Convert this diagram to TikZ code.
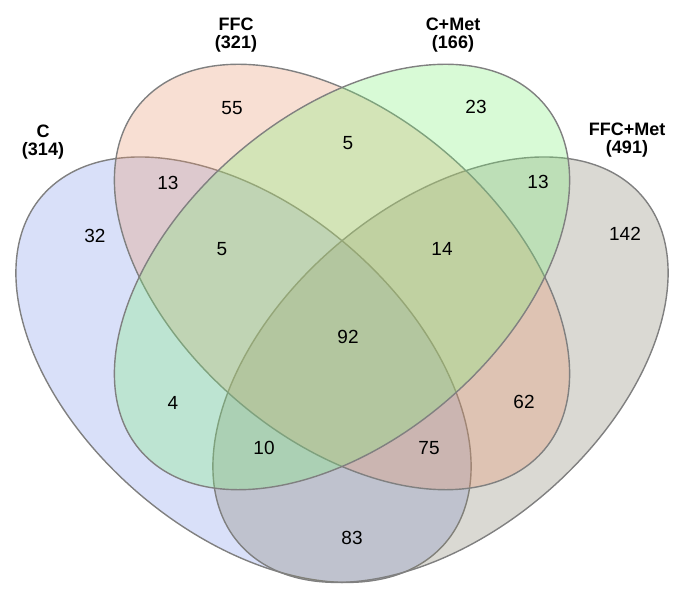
\documentclass[tikz,border=0pt]{standalone}
\usepackage{fontspec}
\setmainfont{Liberation Sans}
\usepackage{tikz}

\definecolor{cblue}{RGB}{128,152,235}
\definecolor{cffc}{RGB}{232,148,108}
\definecolor{cmet}{RGB}{125,240,120}
\definecolor{cffcmet}{RGB}{132,128,108}
\definecolor{cline}{RGB}{128,128,128}

\begin{document}
\begin{tikzpicture}[x=1pt,y=1pt,
    vset/.style={draw=cline,line width=1.4pt,fill opacity=0.3},
    count/.style={font=\fontsize{19}{22}\selectfont},
    setname/.style={font=\fontsize{18}{18.5}\selectfont\bfseries,align=center}]
    \useasboundingbox (0,0) rectangle (677,593);

    \draw [vset,fill=cblue,shift={(243.5,223.3)},xscale=1.07,rotate=-45] (0,0) ellipse (256.5 and 157.1);
    \draw [vset,fill=cffcmet,shift={(440.5,223.3)},xscale=1.07,rotate=45] (0,0) ellipse (256.5 and 157.1);
    \draw [vset,fill=cffc,shift={(342,316)},xscale=1.07,rotate=-45] (0,0) ellipse (256.5 and 157.1);
    \draw [vset,fill=cmet,shift={(342,316)},xscale=1.07,rotate=45] (0,0) ellipse (256.5 and 157.1);

    \node [setname] (c) at (43, 451) {C\\(314)};
    \node [setname] (ffc) at (236, 558) {FFC\\(321)};
    \node [setname] (cmet) at (453, 558) {C+Met\\(166)};
    \node [setname] (ffcmet) at (627, 453) {FFC+Met\\(491)};

    \node [count] (n55) at (232, 485) {55};
    \node [count] (n23) at (476, 486) {23};
    \node [count] (n5a) at (348, 450) {5};
    \node [count] (n13a) at (168, 410) {13};
    \node [count] (n13b) at (538, 411) {13};
    \node [count] (n32) at (95, 357) {32};
    \node [count] (n142) at (625, 359) {142};
    \node [count] (n5b) at (222, 344) {5};
    \node [count] (n14) at (442, 344) {14};
    \node [count] (n92) at (348, 256) {92};
    \node [count] (n4) at (173, 190) {4};
    \node [count] (n62) at (524, 191) {62};
    \node [count] (n10) at (264, 145) {10};
    \node [count] (n75) at (429, 145) {75};
    \node [count] (n83) at (352, 55) {83};
\end{tikzpicture}
\end{document}
